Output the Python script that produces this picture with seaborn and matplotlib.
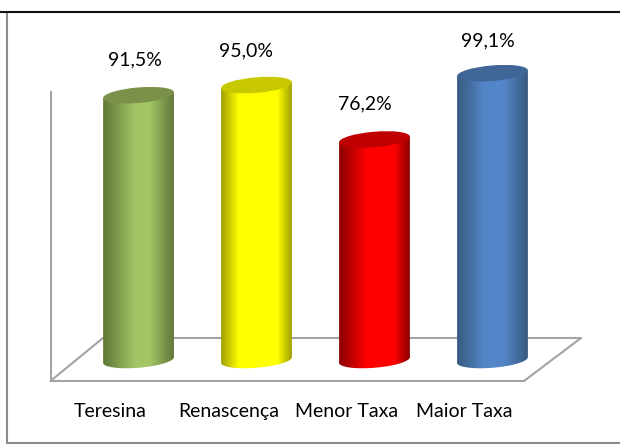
import numpy as np
import pandas as pd
import seaborn as sns
import matplotlib
matplotlib.use('Agg')
import matplotlib.pyplot as plt
from matplotlib.colors import LinearSegmentedColormap
from matplotlib.lines import Line2D
from matplotlib.patches import Ellipse
from matplotlib.path import Path
from matplotlib.transforms import IdentityTransform, ScaledTranslation

categories = ['Teresina', 'Renascença', 'Menor Taxa', 'Maior Taxa']
values = [91.5, 95.0, 76.2, 99.1]
value_labels = ['91,5%', '95,0%', '76,2%', '99,1%']

W, H = 620, 444

sns.set_theme(style='white')
plt.rcParams['font.family'] = ['Lato', 'DejaVu Sans']

# side shade, body colour, top cap colour
colours = [('#5f7838', '#a3c665', '#7b9149'),
           ('#a0a000', '#ffff00', '#c8c800'),
           ('#8c0000', '#ff0000', '#c00000'),
           ('#385a80', '#5386c8', '#3f6697')]
# where the full body colour starts and ends across each cylinder
bright = [(0.45, 0.66), (0.25, 0.80), (0.40, 0.78), (0.38, 0.66)]
GRID = '#a3a3a3'

fig = plt.figure(figsize=(W / 100, H / 100), dpi=100, facecolor='white')
# axes box runs from the back wall line to the front edge of the floor
ax = fig.add_axes([50.5 / W, 1 - 381 / H, (524 - 50.5) / W, (381 - 92) / H])
ax.patch.set_visible(False)

df = pd.DataFrame({'cat': categories, 'val': values})
sns.barplot(data=df, x='cat', y='val', hue='cat', palette=[c[1] for c in colours],
            legend=False, width=0.6, ax=ax, saturation=1, errorbar=None)

ax.set_xlabel('')
ax.set_ylabel('')
ax.set_yticks([])
ax.tick_params(axis='x', length=0, pad=15.6, labelsize=14, colors='black')
# excel pushed the category names left of the bars
shift_left = ScaledTranslation(-28 / 100, 0, fig.dpi_scale_trans)
for t in ax.get_xticklabels():
    t.set_transform(t.get_transform() + shift_left)
sns.despine(ax=ax)
for s in ['left', 'bottom']:
    ax.spines[s].set_color(GRID)
    ax.spines[s].set_linewidth(1.5)


def fig_line(x0, y0, x1, y1, color=GRID, lw=1.5):
    fig.add_artist(Line2D([x0 / W, x1 / W], [1 - y0 / H, 1 - y1 / H], color=color, lw=lw,
                          transform=fig.transFigure, zorder=-1))


# floor
fig_line(50.5, 381, 103, 338)
fig_line(103, 338, 581, 338)
fig_line(581, 338, 524, 381)
# frame round the chart
fig_line(7, 12, 7, 443, '#8c8c8c', 1.5)
fig_line(7, 443, 620, 443, '#8c8c8c', 1.5)
fig_line(0, 12, 620, 12, '#111111', 1.5)

ax.set_xlim(-0.746, 3.267)
ax.set_ylim(-7.26, 92.6)

TILT = np.deg2rad(4.8)
CAP_H = 15.5
label_shift = [(-3.5, 35), (-10.5, 34.5), (-9.5, 36), (-4.5, 32)]

bars = list(ax.patches)
for bar, c, lab, shift, br in zip(bars, colours, value_labels, label_shift, bright):
    x0 = bar.get_x()
    x1 = x0 + bar.get_width()
    top = bar.get_height()
    (l, b), (r, t) = ax.transData.transform([(x0, 0), (x1, top)])
    cx = (l + r) / 2
    a = (r - l) / 2 / np.cos(TILT)

    # outline of the body: tilted lower half of the bottom ellipse, then up to the top
    th = np.linspace(np.pi, 2 * np.pi, 60)
    ex = a * np.cos(th)
    ey = CAP_H / 2 * np.sin(th)
    xs = cx + ex * np.cos(TILT) - ey * np.sin(TILT)
    ys = b + ex * np.sin(TILT) + ey * np.cos(TILT)
    xs = np.r_[xs, cx + a * np.cos(TILT), cx - a * np.cos(TILT), xs[0]]
    ys = np.r_[ys, t + a * np.sin(TILT), t - a * np.sin(TILT), ys[0]]
    body = Path(np.c_[xs, ys])

    cmap = LinearSegmentedColormap.from_list('cyl', [(0, c[0]), (br[0], c[1]), (br[1], c[1]), (1, c[0])])
    im = ax.imshow(np.linspace(0, 1, 128).reshape(1, -1), cmap=cmap, aspect='auto',
                   extent=(x0, x1, -10, top + 10), interpolation='bilinear', zorder=3)
    im.set_clip_box(fig.bbox)
    im.set_clip_path(body, IdentityTransform())
    bar.set_visible(False)

    ax.add_patch(Ellipse((cx, t), 2 * a, CAP_H, angle=np.rad2deg(TILT), facecolor=c[2], edgecolor='none',
                         transform=IdentityTransform(), zorder=4, clip_on=False))
    fig.text((cx + shift[0]) / W, (t + shift[1]) / H, lab, ha='center', va='center',
             fontsize=14, color='black')

ax.set_xlim(-0.746, 3.267)
ax.set_ylim(-7.26, 92.6)

fig.savefig('out.png', dpi=100)
